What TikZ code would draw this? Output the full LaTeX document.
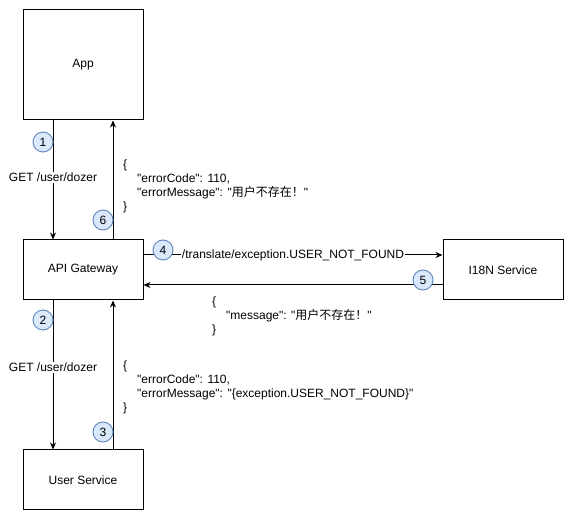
\documentclass[tikz,border=0pt]{standalone}
\usepackage{fontspec}
\setmainfont{Liberation Sans}[Ligatures=TeXOff]
\newfontfamily\cjk{Noto Sans CJK SC}
\usetikzlibrary{arrows.meta}
\definecolor{bleuFond}{HTML}{DAE8FC}
\definecolor{bleuTrait}{HTML}{6C8EBF}
\tikzset{
  boite/.style={draw,line width=1pt,minimum width=120pt,minimum height=60pt,inner sep=0pt,font=\fontsize{12}{14}\selectfont},
  rond/.style={circle,draw=bleuTrait,fill=bleuFond,line width=1pt,minimum size=20pt,inner sep=0pt,font=\fontsize{12}{14}\selectfont},
  fleche/.style={line width=1pt,-{Stealth[length=7pt,width=6pt]}},
  texte/.style={align=left,inner sep=0pt,font=\fontsize{12}{14}\selectfont},
  etiq/.style={texte,fill=white,inner sep=1pt},
}
\begin{document}
\begin{tikzpicture}[x=1pt,y=-1pt]  % ------ Gateway et traduction ---------------
    \useasboundingbox (0,0) rectangle (574,521);

    \node[boite,minimum height=110pt] (app) at (83,65) {App};
    \node[boite] (api) at (83,270) {API Gateway};
    \node[boite] (user) at (83,480) {User Service};
    \node[boite] (i18n) at (503,270) {I18N Service};

    \draw[fleche] ([xshift=-30pt]app.south) -- ([xshift=-30pt]api.north)
        node[pos=.48,etiq] (get1) {GET /user/dozer};
    \draw[fleche] ([xshift=30pt]api.north) -- ([xshift=30pt]app.south);
    \draw[fleche] ([xshift=-30pt]api.south) -- ([xshift=-30pt]user.north)
        node[pos=.45,etiq] (get2) {GET /user/dozer};
    \draw[fleche] ([xshift=30pt]user.north) -- ([xshift=30pt]api.south);
    \draw[fleche] ([yshift=15pt]api.east) -- ([yshift=15pt]i18n.west)
        node[midway,etiq] (trad) {/translate/exception.USER\_NOT\_FOUND};
    \draw[fleche] ([yshift=-15pt]i18n.west) -- ([yshift=-15pt]api.east);

    \node[rond] (r1) at (43,142) {1};
    \node[rond] (r2) at (43,320) {2};
    \node[rond] (r3) at (103,432) {3};
    \node[rond] (r4) at (163,250) {4};
    \node[rond] (r5) at (423,280) {5};
    \node[rond] (r6) at (103,220) {6};

\begin{scope}[every node/.style={texte,anchor=west}]
    \node (rep1) at (123,186) {\{\\\hspace*{14pt}"errorCode": 110,\\\hspace*{14pt}"errorMessage": "{\cjk 用户不存在！}"\\\}};
    \node (rep2) at (212,316) {\{\\\hspace*{14pt}"message": "{\cjk 用户不存在！}"\\\}};
    \node (rep3) at (123,387) {\{\\\hspace*{14pt}"errorCode": 110,\\\hspace*{14pt}"errorMessage": "\{exception.USER\_NOT\_FOUND\}"\\\}};
\end{scope}
\end{tikzpicture}
\end{document}
